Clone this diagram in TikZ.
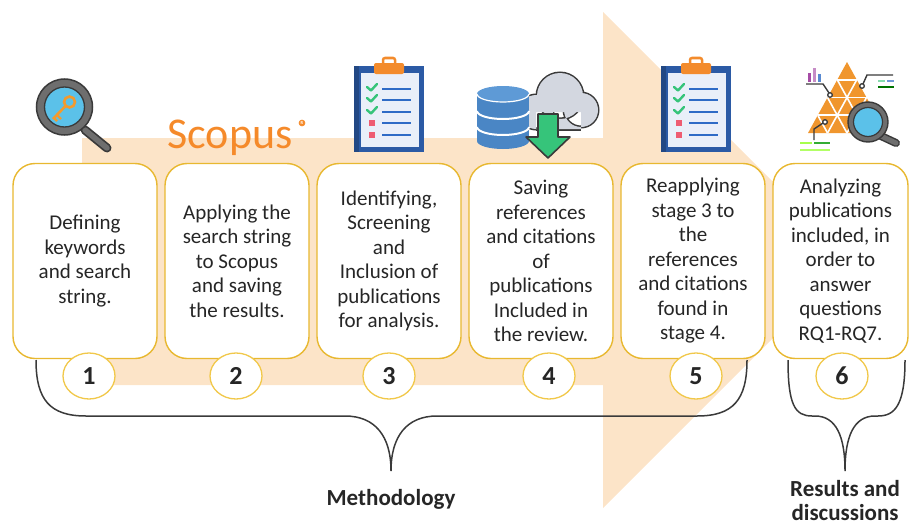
\documentclass[tikz,border=0pt]{standalone}
\usepackage{fontspec}
\setmainfont{Carlito}
\usetikzlibrary{shapes.geometric}
\definecolor{peach}{HTML}{FCE4C8}
\definecolor{boxgold}{HTML}{E8B830}
\definecolor{ringgold}{HTML}{F1C84A}
\definecolor{textgray}{HTML}{262626}
\definecolor{scopusorange}{HTML}{F58A2A}
\definecolor{clipblue}{HTML}{2B5AA5}
\definecolor{paper}{HTML}{E9EFF9}
\definecolor{linkblue}{HTML}{2E6BC6}
\definecolor{checkgreen}{HTML}{36C47A}
\definecolor{pinkmark}{HTML}{EE5C72}
\definecolor{cliporange}{HTML}{F38B2C}
\definecolor{dbblue}{HTML}{4A86C5}
\definecolor{dbtop}{HTML}{5E9AD6}
\definecolor{cloudgray}{HTML}{D3D7E0}
\definecolor{outline}{HTML}{3A3A3A}
\definecolor{lensblue}{HTML}{5BC1E9}
\definecolor{ringgray}{HTML}{6E6E6E}
\definecolor{keyorange}{HTML}{F39A2E}
\definecolor{trioorange}{HTML}{F0962E}
\begin{document}
\begin{tikzpicture}[x=1pt,y=-1pt,
  stepbox/.style={draw=boxgold, line width=1.4pt, fill=white, rounded corners=22pt,
    minimum width=144pt, minimum height=195pt, inner sep=0pt, align=center,
    text=textgray, font=\fontsize{21}{24.5}\selectfont},
  numcircle/.style={ellipse, draw=ringgold, line width=1.3pt, fill=white,
    minimum width=52pt, minimum height=46pt, inner sep=0pt,
    text=textgray, font=\bfseries\fontsize{26}{26}\selectfont},
  brace/.style={draw=outline, line width=1.5pt},
  caption/.style={align=center, text=textgray, inner sep=0pt,
    font=\bfseries\fontsize{23}{26}\selectfont},
  clipboard/.pic={
    \fill[clipblue] (0,0) rectangle (70,86);
    \fill[paper] (7,7) rectangle (65,81);
    \fill[clipblue!80!black] (0,0) rectangle (5,86);
    \fill[cliporange, rounded corners=2pt] (20,-3) rectangle (50,8);
    \draw[cliporange, line width=2.5pt, rounded corners=2pt] (29,-2) -- (29,-8) -- (41,-8) -- (41,-2);
    \foreach \yy in {23,34,46,57,69}
      \draw[linkblue, line width=2.2pt] (28,\yy) -- (57,\yy);
    \foreach \yy in {23,34,46}
      \draw[checkgreen, line width=2.4pt, line cap=round, line join=round]
        (13,\yy-2) -- (17,\yy+1.5) -- (23,\yy-5);
    \foreach \yy in {57,69}
      \fill[pinkmark] (15,\yy-3) rectangle (21,\yy+3);
  }]
\useasboundingbox (0,0) rectangle (909,527);

% background arrow
\fill[peach] (82,138) -- (603,138) -- (603,12) -- (851,260) -- (603,508)
  -- (603,385) -- (82,385) -- cycle;

% magnifier with key
\draw[outline, line width=9pt, line cap=round] (85,130) -- (107,148);
\draw[ringgray, line width=5.5pt, line cap=round] (85,130) -- (107,148);
\draw[outline, line width=1.5pt, fill=ringgray] (64.5,107) circle (28);
\draw[outline, line width=1.3pt, fill=lensblue] (64.5,107) circle (20);
\draw[keyorange, line width=2.6pt] (69.5,102) circle (5.5);
\draw[keyorange, line width=2.6pt] (65.5,106) -- (53,119);
\draw[keyorange, line width=2.4pt] (57,115) -- (61,119) (54,118) -- (57,121);

% Scopus logo
\node[anchor=base, text=scopusorange, font=\fontsize{44}{44}\selectfont, inner sep=0pt]
  (scopus) at (230,148) {Scopus};
\node[circle, draw=scopusorange, line width=0.6pt, fill=scopusorange, text=white,
  inner sep=0pt, minimum size=6pt, font=\bfseries\fontsize{4.5}{4.5}\selectfont]
  (reg) at (302,123) {R};

% clipboards
\pic at (354,66) {clipboard};
\pic at (661,66) {clipboard};

% cloud behind the database
\begin{scope}
  \draw[outline, line width=3pt] (560,96) circle (23) (536,112) circle (17) (581,110) circle (17);
  \draw[outline, line width=3pt] (536,129) -- (581,129);
  \fill[cloudgray] (560,96) circle (23) (536,112) circle (17) (581,110) circle (17)
    (536,112) rectangle (581,129);
\end{scope}

% database
\fill[dbblue] (477,94) rectangle (529,141);
\fill[dbblue] (503,141) ellipse (26 and 8);
\fill[dbtop] (503,94) ellipse (26 and 8);
\draw[white, line width=2pt] (477,111) arc[start angle=180, end angle=360, x radius=26, y radius=-8];
\draw[white, line width=2pt] (477,127) arc[start angle=180, end angle=360, x radius=26, y radius=-8];
\draw[white, line width=1.2pt] (477,94) arc[start angle=180, end angle=360, x radius=26, y radius=-8];

% download arrow
\draw[outline, line width=1.6pt, fill=checkgreen, line join=round]
  (538,114) -- (558,114) -- (558,137) -- (570,137) -- (548,158) -- (526,137) -- (538,137) -- cycle;

% analysis icon: triangle grid
\fill[trioorange] (847,62) -- (886,133) -- (808,133) -- cycle;
\begin{scope}[white, line width=1.6pt]
  \foreach \k in {1,2,3} {
    \draw ({847-39*\k/4},{62+71*\k/4}) -- ({847+39*\k/4},{62+71*\k/4});
    \draw ({847-39*\k/4},{62+71*\k/4}) -- ({847-39*\k/4+39*(4-\k)/4},133);
    \draw ({847+39*\k/4},{62+71*\k/4}) -- ({847+39*\k/4-39*(4-\k)/4},133);
  }
\end{scope}
\fill[violet!70] (808,73) rectangle (811,82);
\fill[violet!45] (813,68) rectangle (816,82);
\fill[linkblue!80] (818,74) rectangle (821,82);
\draw[outline, line width=1.4pt] (806,84) -- (823,84) -- (829,93);
\draw[outline, line width=1.3pt, fill=white] (830,95) circle (2.3);
\draw[outline, line width=1.4pt] (893,75) -- (867,75) -- (863,84);
\draw[outline, line width=1.3pt, fill=white] (862,86) circle (2.3);
\draw[outline, line width=1.4pt] (823,123) -- (814,129) -- (814,140);
\draw[outline, line width=1.3pt, fill=white] (825,122) circle (2.3);
\draw[checkgreen!60, line width=1.6pt] (878,81) -- (885,81);
\draw[linkblue!70, line width=1.6pt] (887,81) -- (894,81);
\draw[green!45!black, line width=1.6pt] (878,87) -- (894,87);
\draw[green!50!yellow!70, line width=1.6pt] (800,143) -- (812,143);
\draw[green!60!black!80, line width=1.6pt] (814,143) -- (830,143);
\draw[green!50!yellow!60, line width=1.6pt] (800,150) -- (830,150);
\draw[outline, line width=8pt, line cap=round] (881,136) -- (896,143);
\draw[ringgray, line width=5pt, line cap=round] (881,136) -- (896,143);
\draw[outline, line width=1.4pt, fill=ringgray] (868,122) circle (20);
\draw[outline, line width=1.2pt, fill=lensblue] (868,122) circle (14.5);

% step boxes
\node[stepbox] (b1) at (85,261) {Defining\\keywords\\and search\\string.};
\node[stepbox] (b2) at (237,261) {Applying the\\search string\\to Scopus\\and saving\\the results.};
\node[stepbox] (b3) at (389,261) {Identifying,\\Screening\\and\\Inclusion of\\publications\\for analysis.};
\node[stepbox] (b4) at (541,261) {Saving\\references\\and citations\\of\\publications\\Included in\\the review.};
\node[stepbox] (b5) at (693,261) {Reapplying\\stage 3 to\\the\\references\\and citations\\found in\\stage 4.};
\node[stepbox, minimum width=135pt] (b6) at (840.5,261) {Analyzing\\publications\\included, in\\order to\\answer\\questions\\RQ1-RQ7.};

% step numbers
\node[numcircle] (n1) at (89,376) {1};
\node[numcircle] (n2) at (236,376) {2};
\node[numcircle] (n3) at (389,376) {3};
\node[numcircle] (n4) at (549,376) {4};
\node[numcircle] (n5) at (696,376) {5};
\node[numcircle] (n6) at (842,376) {6};

% braces
\draw[brace] (36,360) .. controls (36,400) and (50,416) .. (86,416) -- (345,416)
  .. controls (375,416) and (391,436) .. (391,471)
  .. controls (391,436) and (407,416) .. (437,416) -- (697,416)
  .. controls (733,416) and (747,400) .. (747,360);
\draw[brace] (788,360) .. controls (788,405) and (795,416) .. (812,416) -- (815,416)
  .. controls (836,416) and (845,436) .. (845,471)
  .. controls (845,436) and (854,416) .. (875,416) -- (878,416)
  .. controls (895,416) and (905,405) .. (905,360);

% captions
\node[caption, anchor=base] (meth) at (391,505) {Methodology};
\node[caption, anchor=base] (res) at (845,496) {Results and};
\node[caption, anchor=base] (disc) at (845,520) {discussions};
\end{tikzpicture}
\end{document}
